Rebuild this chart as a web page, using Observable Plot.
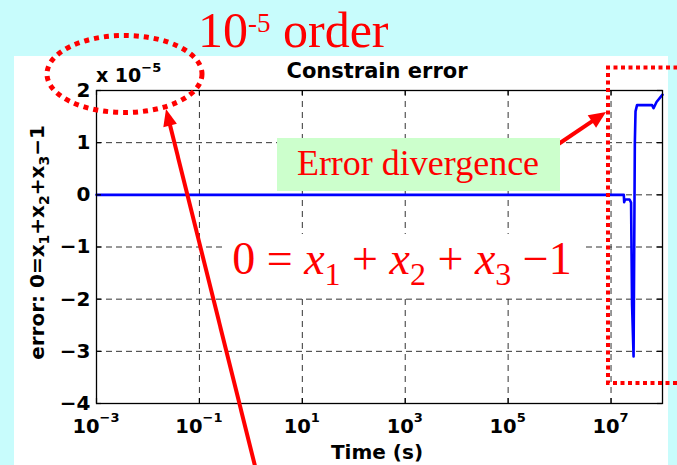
<!DOCTYPE html>
<html>
<head>
<meta charset="utf-8">
<script src="https://cdn.jsdelivr.net/npm/d3@7"></script>
<script src="https://cdn.jsdelivr.net/npm/@observablehq/plot@0.6"></script>
<style>
  html, body { margin: 0; padding: 0; background: #c8fcfc; }
  #chart { width: 677px; height: 465px; overflow: hidden; position: relative; }
  #chart svg { display: block; }
</style>
</head>
<body>
<div id="chart"></div>
<script>
// Constraint error 0 = x1 + x2 + x3 - 1 over simulated time.
// Error values are given in units of 1e-5 (the axis multiplier).
const times  = [1e-3, 1.77e7, 1.80e7, 1.87e7, 2.29e7, 2.45e7, 2.56e7, 2.74e7, 2.90e7, 2.99e7, 3.20e7, 6.27e7, 6.70e7, 7.66e7, 1e8];
const errors = [0,    0,      -0.14,  -0.09,  -0.09,  -0.15,  -2.1,   -3.1,   1.0,    1.6,    1.72,   1.72,   1.66,   1.78,   1.92];

const xTickValues = [1e-3, 1e-1, 1e1, 1e3, 1e5, 1e7];
const xGridValues = [1e-1, 1e1, 1e3, 1e5, 1e7];
const yTickValues = [-4, -3, -2, -1, 0, 1, 2];
const yGridValues = [-3, -2, -1, 0, 1];

const chartTitle = "Constrain error";
const xLabel = "Time (s)";
const yMultiplier = "-5";
const orderNote = ["10", "-5", " order"];
const divergenceNote = "Error divergence";

const W = 677, H = 465;
const M = {top: 90, right: 15, bottom: 62, left: 96};
const FW = W - M.left - M.right;   // frame width
const FH = H - M.top - M.bottom;   // frame height
const TICK = 5;
const sans = '"DejaVu Sans", "Liberation Sans", sans-serif';
const serif = '"Liberation Serif", "DejaVu Serif", serif';
const RED = "#ff0000";

const data = times.map((t, i) => ({t, e: errors[i]}));
const minusify = (v) => (v < 0 ? "\u2212" + Math.abs(v) : String(v));

const plot = Plot.plot({
  width: W,
  height: H,
  marginTop: M.top,
  marginRight: M.right,
  marginBottom: M.bottom,
  marginLeft: M.left,
  style: {background: "transparent", fontFamily: sans, overflow: "visible"},
  x: {type: "log", domain: [1e-3, 1e8], axis: null},
  y: {domain: [-4, 2], axis: null},
  marks: [
    // dashed grid
    Plot.ruleX(xGridValues, {x: d => d, stroke: "#333", strokeWidth: 1, strokeDasharray: "6,5"}),
    Plot.ruleY(yGridValues, {y: d => d, stroke: "#333", strokeWidth: 1, strokeDasharray: "6,4"}),
    // error curve
    Plot.line(data, {x: "t", y: "e", stroke: "#0000ff", strokeWidth: 2.6, strokeLinejoin: "round"}),
    // axes box with inward ticks on all sides
    Plot.frame({stroke: "#000", strokeWidth: 1.3}),
    Plot.tickY(yTickValues, {y: d => d, insetRight: FW - TICK, stroke: "#000", strokeWidth: 1.2}),
    Plot.tickY(yTickValues, {y: d => d, insetLeft: FW - TICK, stroke: "#000", strokeWidth: 1.2}),
    Plot.tickX(xTickValues, {x: d => d, insetTop: FH - TICK, stroke: "#000", strokeWidth: 1.2}),
    Plot.tickX(xTickValues, {x: d => d, insetBottom: FH - TICK, stroke: "#000", strokeWidth: 1.2}),
    // y tick labels
    Plot.text(yTickValues, {
      y: d => d, frameAnchor: "left", text: d => minusify(d), textAnchor: "end",
      dx: -6, fontSize: 20, fontWeight: "bold", fill: "#000"
    })
  ]
});

document.getElementById("chart").appendChild(plot);

const svg = d3.select(plot);
const xs = plot.scale("x");

// white figure panel behind the axes
svg.insert("rect", ":first-child")
  .attr("x", 14).attr("y", 56).attr("width", 654).attr("height", H - 56)
  .attr("fill", "#fff");

const layer = svg.append("g").attr("text-anchor", "start");

// x tick labels: 10 with exponent
xTickValues.forEach((t) => {
  const txt = layer.append("text")
    .attr("x", xs.apply(t)).attr("y", M.top + FH + 30)
    .attr("text-anchor", "middle")
    .attr("font-family", sans).attr("font-weight", "bold").attr("fill", "#000");
  txt.append("tspan").attr("font-size", 19.5).text("10");
  txt.append("tspan").attr("font-size", 13).attr("dy", -11).text(minusify(Math.round(Math.log10(t))));
});

// axis multiplier "x 10^-5"
const mult = layer.append("text")
  .attr("x", M.left).attr("y", 82)
  .attr("text-anchor", "start")
  .attr("font-family", sans).attr("font-weight", "bold").attr("fill", "#000");
mult.append("tspan").attr("font-size", 19).text("x 10");
mult.append("tspan").attr("font-size", 13).attr("dy", -10).text(minusify(+yMultiplier));

// title
layer.append("text")
  .attr("x", M.left + FW / 2 - 2).attr("y", 78)
  .attr("text-anchor", "middle")
  .attr("font-family", sans).attr("font-weight", "bold").attr("font-size", 21)
  .attr("fill", "#000").text(chartTitle);

// x label
layer.append("text")
  .attr("x", M.left + FW / 2 - 2).attr("y", 459)
  .attr("text-anchor", "middle")
  .attr("font-family", sans).attr("font-weight", "bold").attr("font-size", 20)
  .attr("fill", "#000").text(xLabel);

// y label with subscripts
const yl = layer.append("text")
  .attr("transform", `translate(44,${M.top + FH / 2 - 4}) rotate(-90)`)
  .attr("text-anchor", "middle")
  .attr("font-family", sans).attr("font-weight", "bold").attr("font-size", 20)
  .attr("fill", "#000");
const ylParts = [["error: 0=x", 0], ["1", 1], ["+x", 0], ["2", 1], ["+x", 0], ["3", 1], ["\u22121", 0]];
let shifted = false;
ylParts.forEach(([s, sub]) => {
  const sp = yl.append("tspan").text(s);
  if (sub) { sp.attr("font-size", 14).attr("dy", 5); shifted = true; }
  else if (shifted) { sp.attr("dy", -5); shifted = false; }
});

// ---- annotations ----
const notes = svg.append("g").attr("text-anchor", "start");

// "10^-5 order"
const ord = notes.append("text")
  .attr("x", 198).attr("y", 47)
  .attr("text-anchor", "start")
  .attr("font-family", serif).attr("fill", RED).attr("font-size", 50);
ord.append("tspan").text(orderNote[0]);
ord.append("tspan").attr("font-size", 27).attr("dy", -15).text(orderNote[1]);
ord.append("tspan").attr("dy", 15).text(orderNote[2]);

// dotted ellipse around the multiplier
notes.append("ellipse")
  .attr("cx", 124.5).attr("cy", 74).attr("rx", 77.5).attr("ry", 38.5)
  .attr("fill", "none").attr("stroke", RED).attr("stroke-width", 5)
  .attr("stroke-dasharray", "5,5");

// dotted box around the divergence region
notes.append("path")
  .attr("d", "M685,67.5H608V383H685")
  .attr("fill", "none").attr("stroke", RED).attr("stroke-width", 4)
  .attr("stroke-dasharray", "4,3.5");

// arrow helper
function arrow(x1, y1, x2, y2, w, headL, headW) {
  const dx = x2 - x1, dy = y2 - y1, L = Math.hypot(dx, dy);
  const ux = dx / L, uy = dy / L;
  const bx = x2 - ux * headL, by = y2 - uy * headL;
  notes.append("line")
    .attr("x1", x1).attr("y1", y1).attr("x2", bx + ux).attr("y2", by + uy)
    .attr("stroke", RED).attr("stroke-width", w);
  notes.append("path")
    .attr("d", `M${x2},${y2}L${bx - uy * headW},${by + ux * headW}L${bx + uy * headW},${by - ux * headW}Z`)
    .attr("fill", RED);
}
arrow(256, 470, 166, 109, 4, 17, 7);
arrow(557, 145, 606, 112, 4, 17, 7.5);

// "Error divergence" label box
notes.append("rect")
  .attr("x", 277).attr("y", 138).attr("width", 283).attr("height", 53)
  .attr("fill", "#ccffcc");
notes.append("text")
  .attr("x", 418).attr("y", 175)
  .attr("text-anchor", "middle")
  .attr("font-family", serif).attr("font-size", 36).attr("fill", RED)
  .text(divergenceNote);

// constraint equation on a white patch
notes.append("rect")
  .attr("x", 222).attr("y", 234).attr("width", 363).attr("height", 62)
  .attr("fill", "#fff");
const eq = notes.append("text")
  .attr("x", 402).attr("y", 274)
  .attr("text-anchor", "middle")
  .attr("xml:space", "preserve")
  .attr("font-family", serif).attr("font-size", 46).attr("fill", RED);
const eqParts = [["0 = ", "n"], ["x", "i"], ["1", "s"], [" + ", "n"], ["x", "i"], ["2", "s"], [" + ", "n"], ["x", "i"], ["3", "s"], [" \u22121", "n"]];
let down = false;
eqParts.forEach(([s, kind]) => {
  const sp = eq.append("tspan").text(s);
  if (kind === "i") sp.attr("font-style", "italic");
  if (kind === "s") { sp.attr("font-size", 32).attr("dy", 11); down = true; }
  else if (down) { sp.attr("dy", -11); down = false; }
});
</script>
</body>
</html>
